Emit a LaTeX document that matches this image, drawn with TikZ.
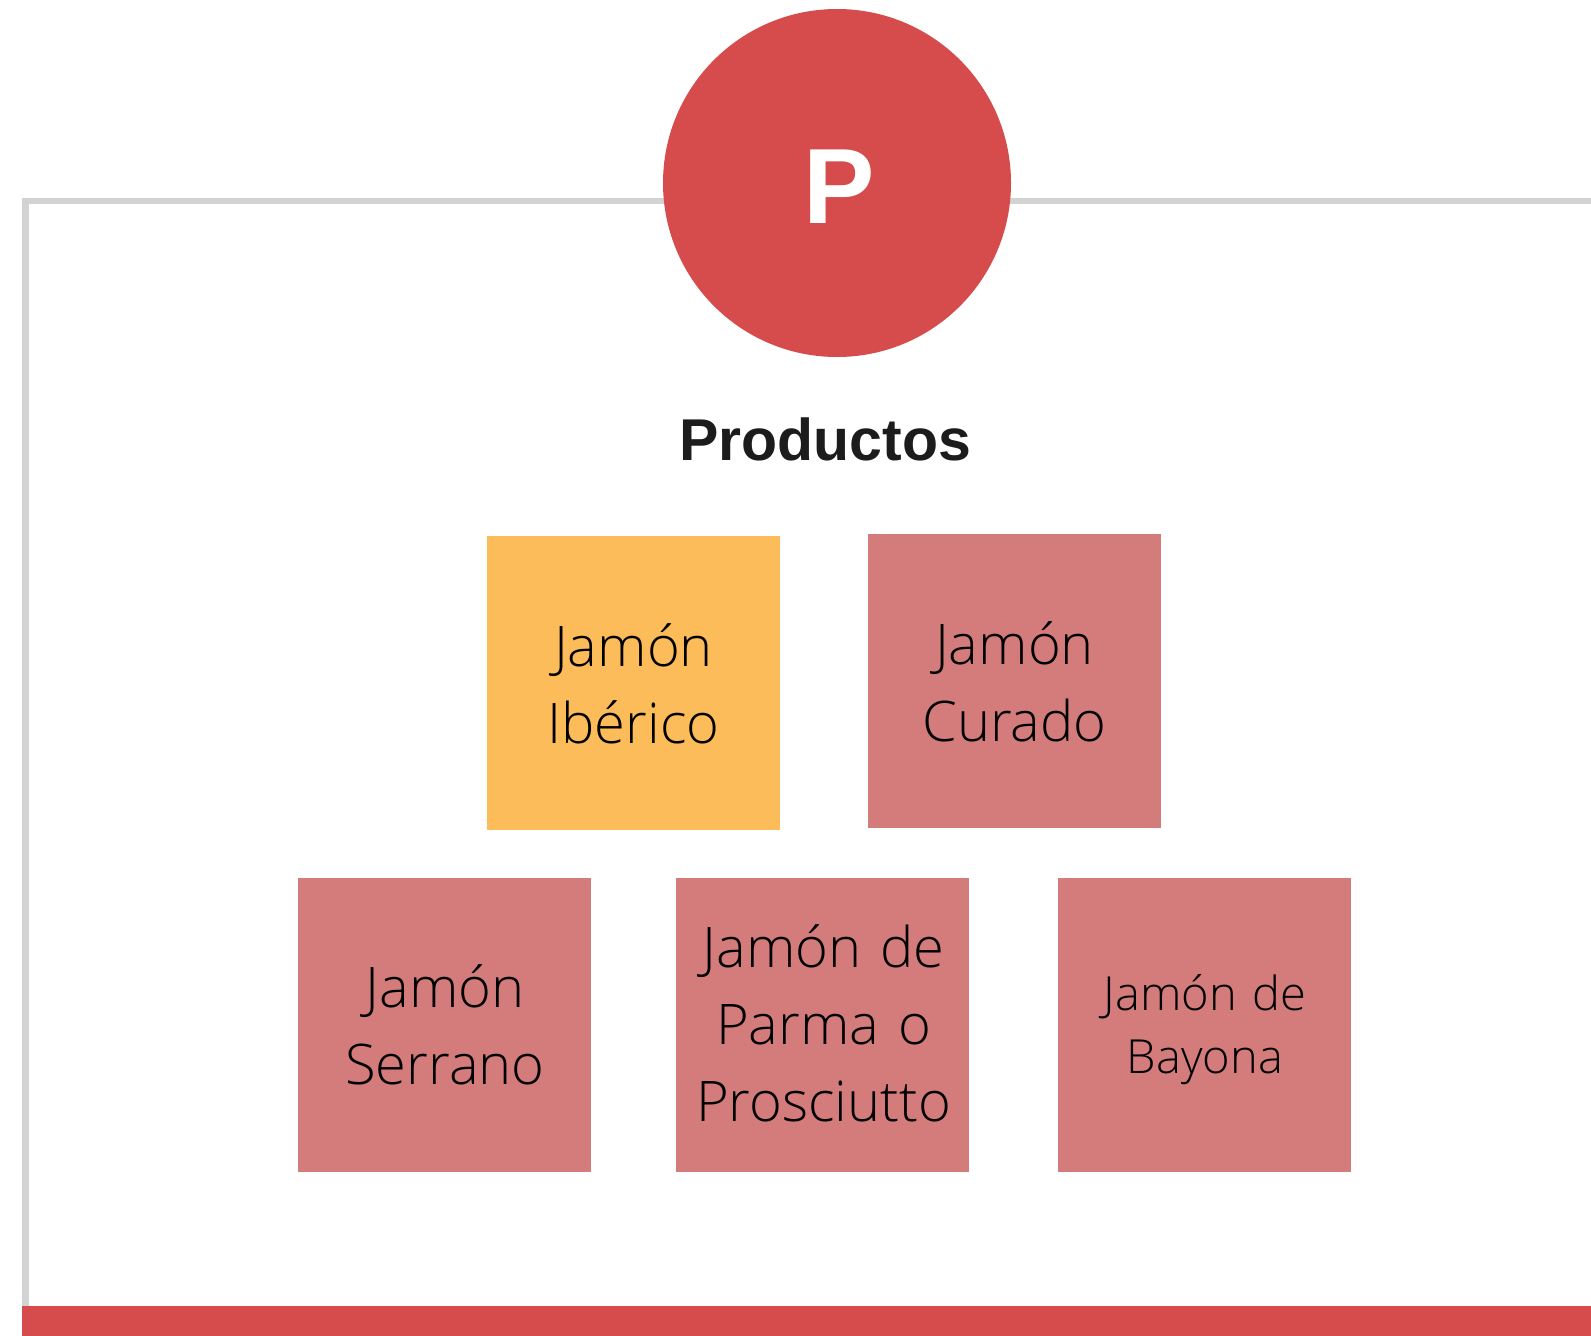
\documentclass[tikz,border=0pt]{standalone}
\usepackage{fontspec}
\IfFontExistsTF{Open Sans Light}{\newfontfamily\lightfont{Open Sans Light}[WordSpace={0.8,0,0}]}{\newfontfamily\lightfont{Open Sans}[WordSpace={0.8,0,0}]}
\newfontfamily\headfont{Liberation Sans}
\definecolor{redc}{RGB}{214,75,75}
\definecolor{pinkc}{RGB}{212,124,124}
\definecolor{orangec}{RGB}{253,188,90}
\definecolor{grayc}{RGB}{211,211,211}
\definecolor{inkc}{RGB}{28,28,28}
\tikzset{
  tile/.style={rectangle, inner sep=0pt, minimum width=293pt, minimum height=294pt, anchor=north west},
  pinktile/.style={tile, fill=pinkc},
  orangetile/.style={tile, fill=orangec},
  tiletext/.style={inner sep=0pt, anchor=base, text width=290pt, align=center, text=black,
    font=\lightfont\fontsize{56}{77}\selectfont},
  smalltiletext/.style={tiletext, font=\lightfont\fontsize{47}{63}\selectfont},
}
\begin{document}
\begin{tikzpicture}[x=1pt,y=-1pt]
\useasboundingbox (0,0) rectangle (1591,1336);
% frame
\coordinate (fr) at (1591,201);
\coordinate (fc) at (25.5,201);
\coordinate (fb) at (25.5,1310);
\draw[grayc, line width=6.5pt] (fr) -- (fc) -- (fb);
\fill[redc] (22,1306) rectangle (1591,1336);
% logo
\node[circle, fill=redc, inner sep=0pt, minimum size=348pt] (logo) at (837,183) {};
\node[inner sep=0pt, anchor=base, text=white, font=\headfont\bfseries\fontsize{107}{107}\selectfont] (logoP) at (839,223) {P};
\node[inner sep=0pt, anchor=base, text=inkc, font=\headfont\bfseries\fontsize{59}{62}\selectfont] (title) at (825,460) {Productos};
% tiles
\node[orangetile] (iber) at (487,536) {};
\node[pinktile] (cur) at (868,534) {};
\node[pinktile] (ser) at (298,878) {};
\node[pinktile] (par) at (676,878) {};
\node[pinktile] (bay) at (1058,878) {};
\node[tiletext] (ibert) at (633.5,666) {Jamón\\Ibérico};
\node[tiletext] (curt) at (1014.5,664) {Jamón\\Curado};
\node[tiletext] (sert) at (445,1007) {Jamón\\Serrano};
\node[tiletext] (part) at (823.5,967) {Jamón de\\Parma o\\Prosciutto};
\node[smalltiletext] (bayt) at (1205,1010) {Jamón de\\Bayona};
\end{tikzpicture}
\end{document}
